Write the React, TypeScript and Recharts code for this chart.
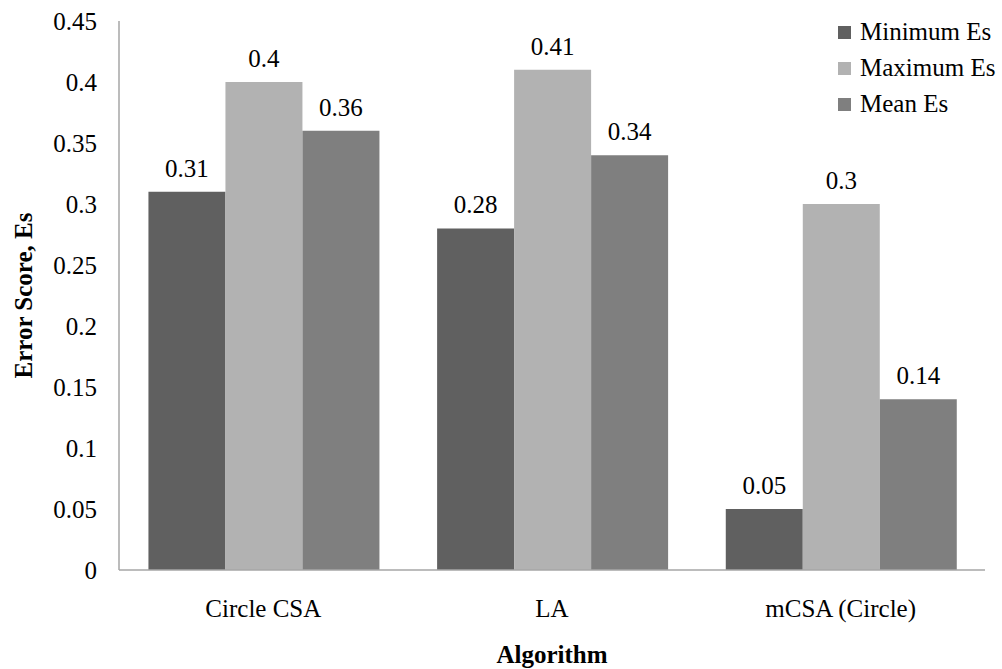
import { BarChart, Bar, XAxis, YAxis, Legend, LabelList } from "recharts";

const algorithms = ["Circle CSA", "LA", "mCSA (Circle)"];
const minimumEs = [0.31, 0.28, 0.05];
const maximumEs = [0.4, 0.41, 0.3];
const meanEs = [0.36, 0.34, 0.14];
const yTicks = [0, 0.05, 0.1, 0.15, 0.2, 0.25, 0.3, 0.35, 0.4, 0.45];

const series = [
  { key: "min", name: "Minimum Es", color: "#606060" },
  { key: "max", name: "Maximum Es", color: "#B2B2B2" },
  { key: "mean", name: "Mean Es", color: "#7F7F7F" },
];

const data = algorithms.map((name, i) => ({
  name,
  min: minimumEs[i],
  max: maximumEs[i],
  mean: meanEs[i],
}));

const font = "'Liberation Serif', 'Times New Roman', serif";
const fs = 25;

const LegendBox = () => (
  <div style={{ fontFamily: font, fontSize: fs, color: "#000" }}>
    {series.map((s) => (
      <div
        key={s.key}
        style={{ display: "flex", alignItems: "center", height: 36 }}
      >
        <span
          style={{
            width: 13,
            height: 13,
            background: s.color,
            display: "inline-block",
            marginRight: 9,
          }}
        />
        {s.name}
      </div>
    ))}
  </div>
);

const XTick = (props: any) => (
  <text
    x={props.x}
    y={props.y + 47}
    textAnchor="middle"
    style={{ fontFamily: font, fontSize: fs, fill: "#000" }}
  >
    {props.payload.value}
  </text>
);

const YTick = (props: any) => (
  <text
    x={props.x}
    y={props.y + 9}
    textAnchor="end"
    style={{ fontFamily: font, fontSize: fs, fill: "#000" }}
  >
    {props.payload.value}
  </text>
);

export default function App() {
  return (
    <div style={{ position: "absolute", left: 0, top: 0, background: "#fff" }}>
      <BarChart
        width={1002}
        height={669}
        data={data}
        margin={{ top: 21, right: 17, left: 0, bottom: 0 }}
        barCategoryGap="10.2%"
        barGap={0}
        style={{ fontFamily: font }}
      >
        <XAxis
          dataKey="name"
          height={99}
          axisLine={{ stroke: "#A6A6A6", strokeWidth: 1.5 }}
          tickLine={false}
          tickSize={0}
          tickMargin={0}
          tick={<XTick />}
          label={{
            value: "Algorithm",
            position: "insideBottom",
            offset: 6,
            style: { fontWeight: "bold", fontSize: fs, fill: "#000", fontFamily: font },
          }}
        />
        <YAxis
          width={119}
          domain={[0, 0.45]}
          ticks={yTicks}
          interval={0}
          axisLine={{ stroke: "#A6A6A6", strokeWidth: 1.5 }}
          tickLine={false}
          tickSize={0}
          tickMargin={22}
          tick={<YTick />}
          label={{
            value: "Error Score, Es",
            angle: -90,
            position: "insideLeft",
            offset: 23,
            style: {
              textAnchor: "middle",
              fontWeight: "bold",
              fontSize: fs,
              fill: "#000",
              fontFamily: font,
            },
          }}
        />
        <Legend
          verticalAlign="middle"
          align="center"
          layout="vertical"
          content={<LegendBox />}
          wrapperStyle={{ top: 14, left: 838, width: 164 }}
        />
        {series.map((s) => (
          <Bar
            key={s.key}
            dataKey={s.key}
            name={s.name}
            fill={s.color}
            isAnimationActive={false}
          >
            <LabelList
              dataKey={s.key}
              position="top"
              offset={15}
              style={{ fill: "#000", fontSize: fs, fontFamily: font }}
            />
          </Bar>
        ))}
      </BarChart>
    </div>
  );
}
